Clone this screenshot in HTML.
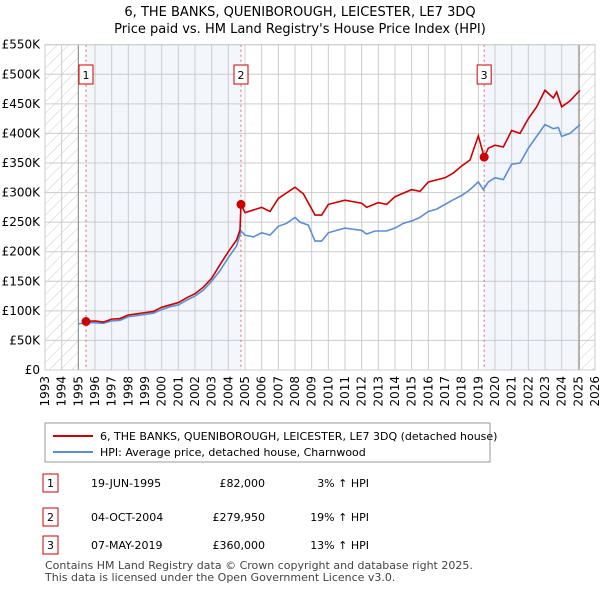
<!DOCTYPE html>
<html><head><meta charset="utf-8"><style>
body{margin:0;background:#fff;font-family:"Liberation Sans","DejaVu Sans",sans-serif;}
svg text{font-family:"DejaVu Sans","Liberation Sans",sans-serif;}
</style></head><body>
<svg id="c" width="600" height="590" xmlns="http://www.w3.org/2000/svg">
<defs><pattern id="h" width="8" height="8" patternUnits="userSpaceOnUse" patternTransform="rotate(45)"><line x1="0" y1="0" x2="0" y2="8" stroke="#ccc" stroke-width="1"/></pattern></defs>
<text x="300" y="16" text-anchor="middle" font-size="13">6, THE BANKS, QUENIBOROUGH, LEICESTER, LE7 3DQ</text>
<text x="300" y="33" text-anchor="middle" font-size="13">Price paid vs. HM Land Registry's House Price Index (HPI)</text>
<g id="plot"></g>
<rect x="45" y="423" width="445" height="39" fill="#fff" stroke="#999"/>
<line x1="53" y1="436" x2="93" y2="436" stroke="#cc0000" stroke-width="2"/>
<text x="100" y="440" font-size="11">6, THE BANKS, QUENIBOROUGH, LEICESTER, LE7 3DQ (detached house)</text>
<line x1="53" y1="452" x2="93" y2="452" stroke="#5b8fd4" stroke-width="2"/>
<text x="100" y="456" font-size="11">HPI: Average price, detached house, Charnwood</text>
<g font-size="11" id="tbl"></g>
<text x="45" y="569" font-size="11" fill="#444">Contains HM Land Registry data © Crown copyright and database right 2025.</text>
<text x="45" y="581" font-size="11" fill="#444">This data is licensed under the Open Government Licence v3.0.</text>
</svg>
<script>
const hpiYears=[1995.0,1995.5,1996,1996.5,1997,1997.5,1998,1998.5,1999,1999.5,2000,2000.5,2001,2001.5,2002,2002.5,2003,2003.5,2004,2004.5,2004.76,2005,2005.5,2006,2006.5,2007,2007.5,2008,2008.3,2008.8,2009.2,2009.6,2010,2010.5,2011,2011.5,2012,2012.3,2012.8,2013.5,2014,2014.5,2015,2015.5,2016,2016.5,2017,2017.5,2018,2018.5,2019,2019.3,2019.6,2020,2020.5,2021,2021.5,2022,2022.5,2023,2023.5,2023.8,2024,2024.5,2025.1];
const hpiValues=[78,80,80,79,83,84,90,92,94,96,102,107,110,118,125,135,150,168,190,210,235,228,225,232,228,243,248,258,250,245,218,218,232,236,240,238,236,230,235,235,240,248,252,258,268,272,280,288,295,305,318,305,318,325,322,348,350,375,395,415,408,410,395,400,415];
const priceYears=[1995.46,1996,1996.5,1997,1997.5,1998,1998.5,1999,1999.5,2000,2000.5,2001,2001.5,2002,2002.5,2003,2003.5,2004,2004.5,2004.7,2004.76,2005,2006,2006.5,2007,2008,2008.5,2009.2,2009.6,2010,2011,2012,2012.3,2013,2013.5,2014,2015,2015.5,2016,2017,2017.5,2018,2018.5,2019,2019.35,2019.6,2020,2020.5,2021,2021.5,2022,2022.5,2023,2023.5,2023.7,2024,2024.5,2025.1];
const priceValues=[82,83,81,86,87,93,95,97,99,106,110,114,122,129,140,155,178,200,220,237,280,266,275,268,290,309,298,262,262,280,287,282,275,283,280,293,305,302,318,325,333,345,355,396,360,375,380,377,405,400,425,445,473,460,470,445,455,473];
const saleYears=[1995.46,2004.76,2019.35];
const saleValues=[82,279.95,360];
const saleLabels=["1","2","3"];
const yTicks=[0,50,100,150,200,250,300,350,400,450,500,550];
const yTickLabels=["£0","£50K","£100K","£150K","£200K","£250K","£300K","£350K","£400K","£450K","£500K","£550K"];
const tableDates=["19-JUN-1995","04-OCT-2004","07-MAY-2019"];
const tablePrices=["£82,000","£279,950","£360,000"];
const tableHpi=["3% ↑ HPI","19% ↑ HPI","13% ↑ HPI"];
const NS="http://www.w3.org/2000/svg";
const L=45,R=595,T=44.7,B=370;
const x=y=>L+(y-1993)/33*(R-L);
const yS=v=>B-v/550*(B-T);
const g=document.getElementById('plot');
function mk(t,a,p){const e=document.createElementNS(NS,t);for(const k in a)e.setAttribute(k,a[k]);(p||g).appendChild(e);return e;}
let e;
e=mk('rect',{x:L,y:T,width:R-L,height:B-T,fill:'#fff'});


e=mk('rect',{x:x(saleYears[0]),y:T,width:x(saleYears[1])-x(saleYears[0]),height:B-T,fill:'#eef3fc',opacity:0.7});


e=mk('rect',{x:x(saleYears[2]),y:T,width:x(2025.05)-x(saleYears[2]),height:B-T,fill:'#eef3fc',opacity:0.7});


e=mk('rect',{x:L,y:T,width:x(1995)-L,height:B-T,fill:'url(#h)'});


e=mk('rect',{x:x(2025.05),y:T,width:R-x(2025.05),height:B-T,fill:'url(#h)'});


for(let yr=1993;yr<=2026;yr++){
 e=mk('line',{x1:x(yr),x2:x(yr),y1:T,y2:B,stroke:'#ccc','stroke-width':1});
 
 
 e=mk('text',{transform:`translate(${x(yr)+4},376) rotate(-90)`,'text-anchor':'end','font-size':12});
 e.textContent=yr;
 
 
}
yTicks.forEach((v,i)=>{
 e=mk('line',{x1:L,x2:R,y1:yS(v),y2:yS(v),stroke:'#ccc','stroke-width':1});
 
 
 e=mk('text',{x:40,y:yS(v)+4,'text-anchor':'end','font-size':12});
 e.textContent=yTickLabels[i];
 
 
});
[1995,2025.05].forEach(v=>{e=mk('line',{x1:x(v),x2:x(v),y1:T,y2:B,stroke:'#888','stroke-width':1});
 
 });
saleYears.forEach(s=>{e=mk('line',{x1:x(s),x2:x(s),y1:T,y2:B,stroke:'#e06060','stroke-width':1,'stroke-dasharray':'2,3'});
 
 });
e=mk('polyline',{points:hpiYears.map((v,i)=>x(v)+','+yS(hpiValues[i])).join(' '),fill:'none',stroke:'#5b8fd4','stroke-width':1.6});


e=mk('polyline',{points:priceYears.map((v,i)=>x(v)+','+yS(priceValues[i])).join(' '),fill:'none',stroke:'#cc0000','stroke-width':1.6});


saleYears.forEach((s,i)=>{
 e=mk('circle',{cx:x(s),cy:yS(saleValues[i]),r:4.5,fill:'#cc0000'});
 
 
 e=mk('rect',{x:x(s)-7,y:65,width:14,height:19,fill:'#fff',stroke:'#cc0000'});
 
 
 e=mk('text',{x:x(s),y:79,'text-anchor':'middle','font-size':11});
 e.textContent=saleLabels[i];
 
 
});
e=mk('rect',{x:L,y:T,width:R-L,height:B-T,fill:'none',stroke:'#ccc'});


const tb=document.getElementById('tbl');
const rowY=[483,517,545];
rowY.forEach((ry,i)=>{
 e=mk('rect',{x:43,y:ry-9,width:15,height:18,fill:'#fff',stroke:'#cc0000'},tb);
 
 
 e=mk('text',{x:50.5,y:ry+4,'text-anchor':'middle'},tb);e.textContent=saleLabels[i];
 
 
 e=mk('text',{x:91,y:ry+4},tb);e.textContent=tableDates[i];
 
 
 e=mk('text',{x:265,y:ry+4,'text-anchor':'end'},tb);e.textContent=tablePrices[i];
 
 
 e=mk('text',{x:369,y:ry+4,'text-anchor':'end'},tb);e.textContent=tableHpi[i];
 
 
});
</script>
</body></html>
